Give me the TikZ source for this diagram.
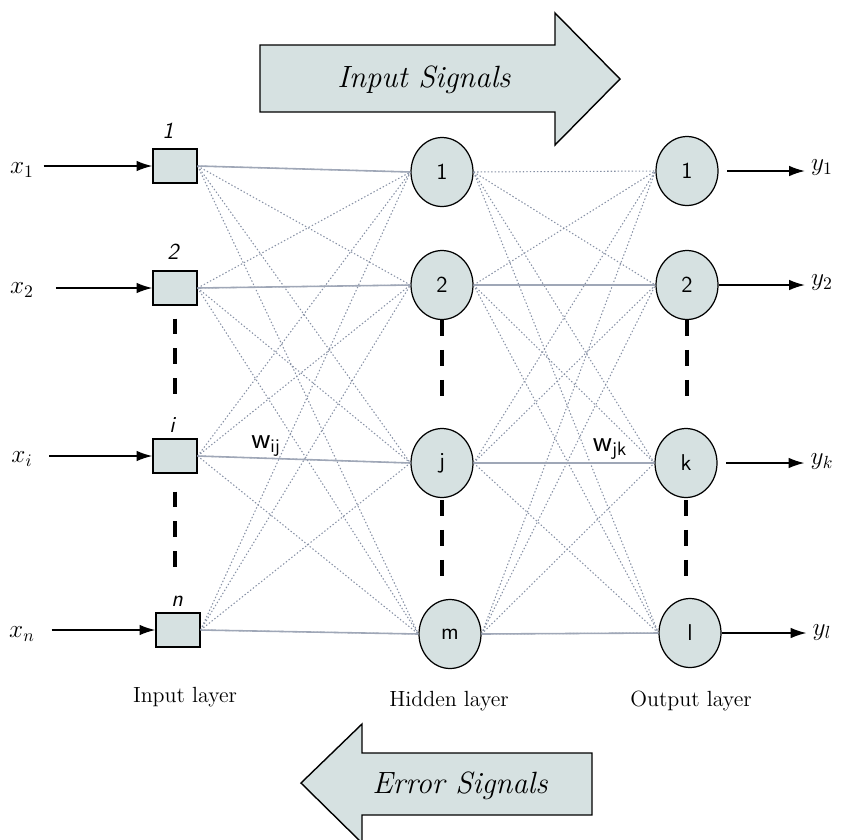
\documentclass[tikz,border=0pt]{standalone}
\usepackage{amsmath}
\usepackage{tikz}
\usetikzlibrary{shapes.geometric, arrows.meta}

\definecolor{cellfill}{RGB}{214,225,225}
\definecolor{wire}{RGB}{135,145,165}

\tikzset{
    inbox/.style={draw, line width=0.7pt, fill=cellfill, minimum width=0.88cm, minimum height=0.68cm, inner sep=0pt},
    neuron/.style={draw, ellipse, line width=0.7pt, fill=cellfill, minimum width=1.24cm, minimum height=1.38cm, inner sep=0pt, font=\sffamily\fontsize{13}{15}\selectfont},
    wiredot/.style={wire, line width=0.6pt, dash pattern=on 0.8pt off 1.2pt},
    wiresolid/.style={wire!80, line width=0.9pt},
    gap/.style={line width=2pt, dash pattern=on 9pt off 8pt},
    sig/.style={-{Latex[length=9pt, width=6pt]}, line width=0.9pt},
    bigarrow/.style={draw, line width=0.8pt, fill=cellfill},
    tag/.style={font=\sffamily\itshape\fontsize{13}{15}\selectfont},
    layer/.style={font=\fontsize{12.5}{15}\selectfont}
}

\begin{document}
\begin{tikzpicture}[x=0.02cm, y=-0.02cm]
        \useasboundingbox (0, 0) rectangle (855, 839);
        % big signal arrows
        \draw[bigarrow] (260, 45) -- (555, 45) -- (555, 13) -- (620, 79) -- (555, 145) -- (555, 112) -- (260, 112) -- cycle;
        \node (insig) at (424, 80) {\fontsize{17.5}{20}\selectfont\itshape Input Signals};
        \draw[bigarrow] (301, 783) -- (362, 724) -- (362, 753) -- (592, 753) -- (592, 815) -- (362, 815) -- (362, 843) -- cycle;
        \node (errsig) at (460, 786) {\fontsize{17.5}{20}\selectfont\itshape Error Signals};
        % input layer
        \node[inbox] (in1) at (175, 166) {};
        \node[inbox] (in2) at (175, 288) {};
        \node[inbox] (ini) at (175, 456) {};
        \node[inbox] (inn) at (178, 630) {};
        \node[tag] (t1) at (168, 131) {1};
        \node[tag] (t2) at (173, 252) {2};
        \node[tag] (ti) at (172, 425) {i};
        \node[tag] (tn) at (177, 601) {n};
        % hidden layer
        \node[neuron] (h1) at (442, 172) {1};
        \node[neuron] (h2) at (442, 285) {2};
        \node[neuron] (hj) at (442, 463) {j};
        \node[neuron] (hm) at (450, 634) {m};
        % output layer
        \node[neuron] (o1) at (687, 171) {1};
        \node[neuron] (o2) at (687, 285) {2};
        \node[neuron] (ok) at (686, 463) {k};
        \node[neuron] (ol) at (690, 633) {l};
        % weights
        \foreach \a in {in1, in2, ini, inn}
            \foreach \b in {h1, h2, hj, hm}
                \draw[wiredot] (\a.east) -- (\b.west);
        \foreach \a in {h1, h2, hj, hm}
            \foreach \b in {o1, o2, ok, ol}
                \draw[wiredot] (\a.east) -- (\b.west);
        \draw[wiresolid] (in1.east) -- (h1.west);
        \draw[wiresolid] (in2.east) -- (h2.west);
        \draw[wiresolid] (ini.east) -- (hj.west);
        \draw[wiresolid] (inn.east) -- (hm.west);
        \draw[wiresolid] (h2.east) -- (o2.west);
        \draw[wiresolid] (hj.east) -- (ok.west);
        \draw[wiresolid] (hm.east) -- (ol.west);
        \node[font=\sffamily\fontsize{17}{19}\selectfont] (wij) at (266, 446) {w\textsubscript{\fontsize{11}{12}\selectfont ij}};
        \node[font=\sffamily\fontsize{17}{19}\selectfont] (wjk) at (610, 449) {w\textsubscript{\fontsize{11}{12}\selectfont jk}};
        % gaps between units
        \draw[gap, shorten <=0.26cm, shorten >=0.64cm] (in2.south) -- (in2.south |- ini.north);
        \draw[gap, shorten <=0.36cm, shorten >=0.64cm] (ini.south) -- (ini.south |- inn.north);
        \draw[gap, shorten >=0.4cm] (h2.south) -- (h2.south |- hj.north);
        \draw[gap, shorten <=0.04cm, shorten >=0.26cm] (hj.south) -- (hj.south |- hm.north);
        \draw[gap, shorten >=0.4cm] (o2.south) -- (o2.south |- ok.north);
        \draw[gap, shorten <=0.04cm, shorten >=0.24cm] (ok.south) -- (ok.south |- ol.north);
        % inputs
        \node (x1) at (22, 170) {\Large $x_1$};
        \node (x2) at (22, 290) {\Large $x_2$};
        \node (xi) at (22, 459) {\Large $x_i$};
        \node (xn) at (22, 634) {\Large $x_n$};
        \draw[sig, shorten <=2pt] (x1.east |- in1.west) -- (in1.west);
        \draw[sig, shorten <=9pt] (x2.east |- in2.west) -- (in2.west);
        \draw[sig, shorten <=6pt] (xi.east |- ini.west) -- (ini.west);
        \draw[sig, shorten <=6pt] (xn.east |- inn.west) -- (inn.west);
        % outputs
        \node (y1) at (822, 168) {\Large $y_1$};
        \node (y2) at (822, 283) {\Large $y_2$};
        \node (yk) at (822, 462) {\Large $y_k$};
        \node (yl) at (822, 632) {\Large $y_l$};
        \draw[sig, shorten <=5pt] (o1.east) -- (o1.east -| y1.west);
        \draw[sig] (o2.east) -- (o2.east -| y2.west);
        \draw[sig, shorten <=5pt] (ok.east) -- (ok.east -| yk.west);
        \draw[sig] (ol.east) -- (ol.east -| yl.west);
        % layer names
        \node[layer] (linput) at (185, 697) {Input layer};
        \node[layer] (lhidden) at (449, 701) {Hidden layer};
        \node[layer] (loutput) at (691, 701) {Output layer};
\end{tikzpicture}
\end{document}
